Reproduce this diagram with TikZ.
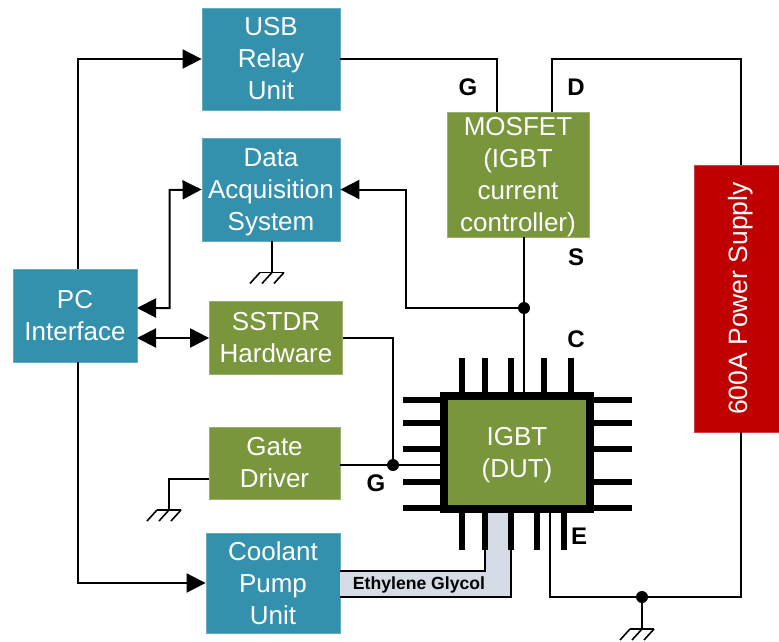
\documentclass[tikz,border=0pt]{standalone}
\usepackage{fontspec}
\setmainfont{Liberation Sans}
\usetikzlibrary{arrows.meta,calc}
\definecolor{unitTeal}{RGB}{51, 145, 173}
\definecolor{unitOlive}{RGB}{122, 150, 61}
\definecolor{unitRed}{RGB}{192, 0, 0}
\definecolor{coolantFill}{RGB}{214, 220, 229}
\newcommand{\headroom}[1]{\rule{0pt}{#1}}

\begin{document}
\begin{tikzpicture}[
        x=1pt, y=-1pt,
        unit/.style={rectangle, draw=#1!75!white, fill=#1, line width=0.8pt, text=white, align=center, inner sep=0pt, font=\fontsize{26}{32}\selectfont},
        pinTerm/.style={font=\fontsize{24}{28}\selectfont\bfseries, inner sep=0pt},
        wire/.style={line width=2pt, black},
        arrow/.style={wire, -{Triangle[length=19pt,width=19pt]}},
        biarrow/.style={wire, {Triangle[length=19pt,width=19pt]}-{Triangle[length=19pt,width=19pt]}},
        junction/.style={circle, fill=black, inner sep=0pt, minimum size=12pt},
        leg/.style={line width=6pt, black},
        ground/.pic={
            \draw[line width=1.6pt] (-12,0) -- (12,0);
            \draw[line width=1.6pt] (-12,0) -- (-22,11) (0,0) -- (-10,11) (12,0) -- (2,11);
        }
    ]
        \useasboundingbox (0,0) rectangle (779,642);

        % Units
        \node[unit=unitTeal, minimum width=138pt, minimum height=102pt] (usb) at (271,59) {USB\\Relay\\Unit};
        \node[unit=unitTeal, minimum width=138pt, minimum height=103pt] (daq) at (271,189.5) {\headroom{23pt}Data\\Acquisition\\System};
        \node[unit=unitTeal, minimum width=124pt, minimum height=93pt] (pc) at (75,315.5) {PC\\Interface};
        \node[unit=unitOlive, minimum width=133pt, minimum height=73pt] (sstdr) at (276,337.5) {SSTDR\\Hardware};
        \node[unit=unitOlive, minimum width=131pt, minimum height=72pt] (driver) at (274.5,463) {Gate\\Driver};
        \node[unit=unitTeal, minimum width=134pt, minimum height=100pt] (pump) at (273,583) {Coolant\\Pump\\Unit};
        \node[unit=unitOlive, minimum width=142pt, minimum height=125pt] (mosfet) at (518,174.5) {\headroom{23pt}MOSFET\\(IGBT\\current\\controller)};
        \node[unit=unitRed, minimum width=85pt, minimum height=267pt] (supply) at (736.5,298.5) {\rotatebox{90}{\fontsize{26.5}{32}\selectfont\headroom{26.6pt}600A Power Supply}};

        % IGBT package legs
        \foreach \x in {462,485,511,544,571} {
            \draw[leg] (\x,358) -- (\x,392);
        }
        \foreach \y in {400,423,449,482,508} {
            \draw[leg] (403,\y) -- (440,\y);
            \draw[leg] (594,\y) -- (632,\y);
        }

        % Coolant channel
        \coordinate (bandTop) at (340,570.5);
        \coordinate (bandBottom) at (340,597);
        \coordinate (bandInner) at (485,550);
        \coordinate (bandOuter) at (511,550);
        \fill[coolantFill] (bandTop) -- (485,570.5) -- (485,513) -- (511,513) -- (511,597) -- (bandBottom) -- cycle;
        \draw[wire] (bandTop) -| (bandInner);
        \draw[wire] (bandBottom) -| (bandOuter);
        \node[font=\fontsize{17.6}{20}\selectfont\bfseries, inner sep=0pt] (glycol) at (419,585) {Ethylene Glycol};

        \foreach \x in {462,485,511,537,564} {
            \draw[leg] (\x,513) -- (\x,550);
        }
        \node[unit=unitOlive, draw=black, line width=8pt, minimum width=146pt, minimum height=113pt] (igbt) at (517,452.5) {\headroom{23.6pt}IGBT\\(DUT)};

        % Junctions
        \node[junction] (sense) at (524,308) {};
        \node[junction] (gate) at (393,465) {};
        \node[junction] (earth) at (642,597) {};

        % Free ends
        \coordinate (pcUp) at (78,269);
        \coordinate (pcDown) at (78,362);
        \coordinate (pcDaq) at (137,308);
        \coordinate (pcSstdr) at (137,338);
        \coordinate (daqBus) at (169.5,190);
        \coordinate (senseBus) at (406,189.5);
        \coordinate (usbDrop) at (497,112);
        \coordinate (drainUp) at (552,112);
        \coordinate (topRail) at (552,59);
        \coordinate (supplyTop) at (741,165);
        \coordinate (supplyBottom) at (741,432);
        \coordinate (sourceOut) at (524,237);
        \coordinate (collectorIn) at (524,392);
        \coordinate (gateIn) at (440,465);
        \coordinate (emitterOut) at (550,513);
        \coordinate (daqGround) at (272,272.5);
        \coordinate (driverTap) at (209,479);
        \coordinate (driverGround) at (169,510);
        \coordinate (mainGround) at (642,629);

        % Connectors
        \draw[arrow] (pcUp) |- (usb.west);
        \draw[arrow] (pcDown) |- (pump.west);
        \draw[biarrow] (pcDaq) -| (daqBus) -- (daq.west);
        \draw[biarrow] (pcSstdr) -- (sstdr.west |- pcSstdr);
        \draw[wire] (usb.east) -| (usbDrop);
        \draw[wire] (drainUp) -- (topRail) -| (supplyTop);
        \draw[wire] (sourceOut) -- (collectorIn);
        \draw[arrow] (sense.center) -| (senseBus) -- (daq.east);
        \draw[wire] (sstdr.east) -| (gate.center);
        \draw[wire] (driver.east |- gate) -- (gateIn);
        \draw[wire] (emitterOut) |- (earth.center);
        \draw[wire] (earth.center) -| (supplyBottom);
        \draw[wire] (earth.center) -- (mainGround);
        \draw[wire] (daq.south -| daqGround) -- (daqGround);
        \draw[wire] (driverTap) -| (driverGround);

        % Grounds
        \pic at (daqGround) {ground};
        \pic at (driverGround) {ground};
        \pic at (mainGround) {ground};

        % Terminal letters
        \node[pinTerm] (gTop) at (468,87) {G};
        \node[pinTerm] (dTop) at (576,87) {D};
        \node[pinTerm] (sTop) at (576,257) {S};
        \node[pinTerm] (cTop) at (576,339) {C};
        \node[pinTerm] (gLow) at (376,483) {G};
        \node[pinTerm] (eLow) at (579,536) {E};
    \end{tikzpicture}
\end{document}
